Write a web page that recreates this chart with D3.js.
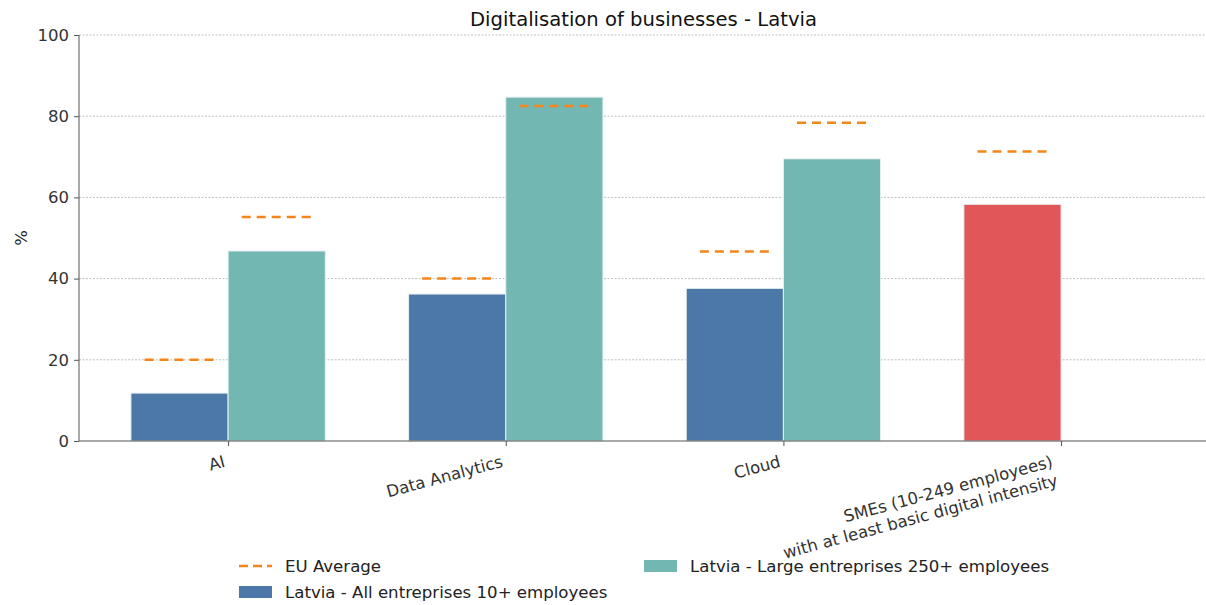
<!DOCTYPE html>
<html><head><meta charset="utf-8">
<script src="https://cdn.jsdelivr.net/npm/d3@7"></script>
<style>
body{margin:0;background:#fff;}
svg{display:block;font-family:"DejaVu Sans",sans-serif;}
</style></head>
<body><svg id="c" width="1206" height="605"></svg>
<script>
const categories = ["AI", "Data Analytics", "Cloud", "SMEs (10-249 employees)\nwith at least basic digital intensity"];
const allEnterprises = [11.8, 36.2, 37.6, null];
const largeEnterprises = [46.8, 84.7, 69.5, null];
const smeValues = [null, null, null, 58.3];
const euAll = [20.0, 40.0, 46.7, null];
const euLarge = [55.2, 82.5, 78.4, null];
const euSme = [null, null, null, 71.3];
const yTicks = [0, 20, 40, 60, 80, 100];
const seriesNames = ["EU Average", "Latvia - All entreprises 10+ employees", "Latvia - Large entreprises 250+ employees"];
const colors = {blue:"#4c78a8", teal:"#72b7b2", red:"#e15759", orange:"#f58518"};

(function(){
const svg = d3.select("#c");
const pl = 79, pr = 1206, pt = 35, pb = 441;
const barW = 0.35;
const x = d3.scaleLinear().domain([-0.537, 3.522]).range([pl, pr]);
const y = d3.scaleLinear().domain([0, 100]).range([pb, pt]);

// grid
svg.append("g").selectAll("line").data(yTicks.filter(d=>d>0)).join("line")
  .attr("x1", pl).attr("x2", pr).attr("y1", d=>y(d)).attr("y2", d=>y(d))
  .attr("stroke", "#b0b0b0").attr("stroke-width", 0.8).attr("stroke-dasharray", "2,1.5");

// bars
const bars = [];
categories.forEach((c,i)=>{
  if (allEnterprises[i]!=null) bars.push({xc:i-barW/2, v:allEnterprises[i], col:colors.blue, eu:euAll[i]});
  if (largeEnterprises[i]!=null) bars.push({xc:i+barW/2, v:largeEnterprises[i], col:colors.teal, eu:euLarge[i]});
  if (smeValues[i]!=null) bars.push({xc:i-barW/2, v:smeValues[i], col:colors.red, eu:euSme[i]});
});
svg.append("g").selectAll("rect").data(bars).join("rect")
  .attr("x", d=>x(d.xc-barW/2)).attr("width", d=>x(d.xc+barW/2)-x(d.xc-barW/2))
  .attr("y", d=>y(d.v)).attr("height", d=>y(0)-y(d.v))
  .attr("fill", d=>d.col)
  .attr("stroke", "#e8f0f0").attr("stroke-width", 1);

// EU average dashes
svg.append("g").selectAll("line").data(bars.filter(d=>d.eu!=null)).join("line")
  .attr("x1", d=>x(d.xc-barW*0.36)).attr("x2", d=>x(d.xc+barW*0.36))
  .attr("y1", d=>y(d.eu)).attr("y2", d=>y(d.eu))
  .attr("stroke", colors.orange).attr("stroke-width", 2.5).attr("stroke-dasharray", "9,6");

// y axis
const ya = svg.append("g").attr("transform", `translate(${pl},0)`)
  .call(d3.axisLeft(y).tickValues(yTicks).tickSize(5).tickPadding(5).tickFormat(d3.format("d")));
ya.select(".domain").attr("stroke", "#555").attr("d", `M0,${pt}V${pb}`);
ya.selectAll(".tick line").attr("stroke", "#555");
ya.selectAll(".tick text").attr("fill", "#333").attr("font-size", 16.5).attr("font-family", "DejaVu Sans");

// x axis
const xa = svg.append("g").attr("transform", `translate(0,${pb})`)
  .call(d3.axisBottom(x).tickValues(d3.range(categories.length)).tickSize(5).tickFormat(""));
xa.select(".domain").attr("stroke", "#555").attr("d", `M${pl},0H${pr}`);
xa.selectAll(".tick line").attr("stroke", "#555");

// x labels rotated, bbox aligned right at tick, top below axis
categories.forEach((c,i)=>{
  const lines = c.split("\n");
  const g = svg.append("g");
  const t = g.append("text")
    .attr("transform", "rotate(-15)")
    .attr("text-anchor", "end").attr("font-size", 16.5).attr("fill", "#333");
  lines.forEach((l,j)=>{
    t.append("tspan").attr("x", 0).attr("y", j*19.5).text(l);
  });
  const bb = g.node().getBBox();
  g.attr("transform", `translate(${x(i)-1-(bb.x+bb.width)},${pb+11-bb.y})`);
});

// y label
svg.append("text").attr("transform", "translate(27,238) rotate(-90)")
  .attr("text-anchor", "middle").attr("font-size", 16.5).attr("fill", "#222").text("%");

// title
svg.append("text").attr("x", (pl+pr)/2 + 1).attr("y", 26)
  .attr("text-anchor", "middle").attr("font-size", 19.6).attr("fill", "#111")
  .text("Digitalisation of businesses - Latvia");

// legend
const lg = svg.append("g");
const legendItems = [
  {name:seriesNames[0], type:"line", col:colors.orange, x:239, y:566},
  {name:seriesNames[1], type:"rect", col:colors.blue, x:239, y:592},
  {name:seriesNames[2], type:"rect", col:colors.teal, x:644, y:566}
];
legendItems.forEach(it=>{
  if (it.type==="line") {
    lg.append("line").attr("x1", it.x).attr("x2", it.x+33).attr("y1", it.y).attr("y2", it.y)
      .attr("stroke", it.col).attr("stroke-width", 2.5).attr("stroke-dasharray", "9,5");
  } else {
    lg.append("rect").attr("x", it.x).attr("y", it.y-6).attr("width", 33).attr("height", 12)
      .attr("fill", it.col);
  }
  lg.append("text").attr("x", it.x+46).attr("y", it.y+6).attr("font-size", 16.6).attr("fill", "#222").text(it.name);
});
})();
</script></body></html>
